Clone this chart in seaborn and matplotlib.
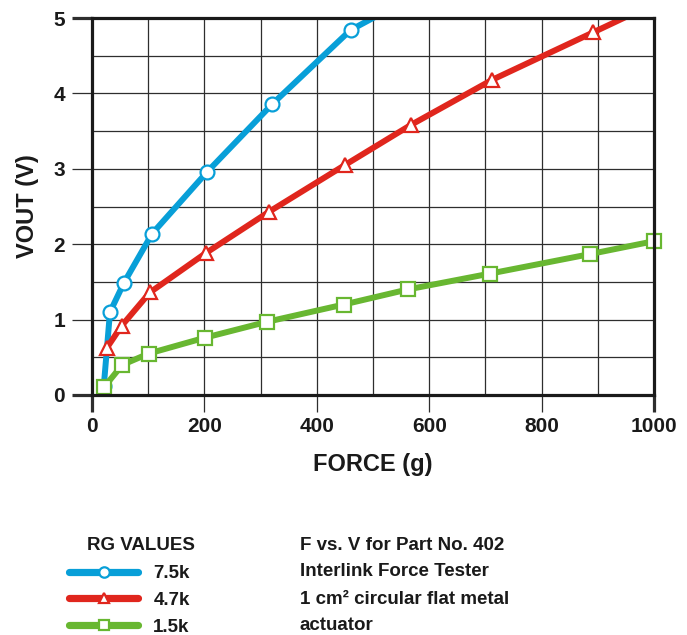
import numpy as np
import pandas as pd
import matplotlib
matplotlib.use("Agg")
import matplotlib.pyplot as plt
import seaborn as sns

# force (g) vs output voltage (V) for each RG value
force_75k = [21, 32, 57, 107, 205, 321, 460, 570]
vout_75k = [0.12, 1.10, 1.49, 2.14, 2.96, 3.86, 4.84, 5.28]

force_47k = [26, 53, 103, 202, 315, 450, 567, 712, 892, 1000]
vout_47k = [0.62, 0.92, 1.36, 1.88, 2.43, 3.05, 3.58, 4.18, 4.81, 5.19]

force_15k = [21, 54, 101, 201, 311, 448, 562, 708, 887, 1000]
vout_15k = [0.10, 0.40, 0.55, 0.76, 0.97, 1.20, 1.40, 1.61, 1.87, 2.04]

x_ticks = [0, 200, 400, 600, 800, 1000]
y_ticks = [0, 1, 2, 3, 4, 5]

sns.set_theme(style="white")
plt.rcParams['font.family'] = ['Liberation Sans', 'DejaVu Sans']
plt.rcParams['font.weight'] = 'bold'

fig = plt.figure(figsize=(6.87, 6.35), dpi=100)
ax = fig.add_axes([92 / 687, 1 - 395 / 635, 562 / 687, 377 / 635])

series = [
    ('7.5k', force_75k, vout_75k, '#089fd8', 'o', True),
    ('4.7k', force_47k, vout_47k, '#e0261d', '^', True),
    ('1.5k', force_15k, vout_15k, '#68b731', 's', False),
]
for label, fx, vy, colour, mk, clip in series:
    df = pd.DataFrame({'force': fx, 'vout': vy})
    sns.lineplot(
        x='force', y='vout', data=df, sort=False, estimator=None,
        color=colour, linewidth=4.3, marker=mk, markersize=10,
        markerfacecolor='white', markeredgecolor=colour, markeredgewidth=1.6,
        label=label, ax=ax, clip_on=clip, zorder=3,
    )

ax.set_xlim(0, 1000)
ax.set_ylim(0, 5)
ax.set_xticks(x_ticks)
ax.set_yticks(y_ticks)
ax.set_xticks(np.arange(0, 1001, 100), minor=True)
ax.set_yticks(np.arange(0, 5.01, 0.5), minor=True)
ax.grid(which='both', color='#2e2e2e', linewidth=0.9, zorder=1)
ax.set_axisbelow(True)

for sp in ax.spines.values():
    sp.set_linewidth(2.3)
    sp.set_color('#1a1a1a')
    sp.set_zorder(4)

ax.tick_params(axis='y', which='major', length=14.4, width=0.9, color='#2e2e2e',
               pad=5, labelsize=15, left=True)
ax.tick_params(axis='x', which='major', length=12, width=0.9, color='#2e2e2e',
               pad=4, labelsize=15, bottom=True)
ax.tick_params(which='minor', length=0)
for t in (ax.yaxis.get_major_ticks()[0], ax.yaxis.get_major_ticks()[-1],
          ax.xaxis.get_major_ticks()[0], ax.xaxis.get_major_ticks()[-1]):
    t.tick1line.set_markeredgewidth(2.3)
    t.tick1line.set_color('#1a1a1a')
for lab in ax.get_xticklabels() + ax.get_yticklabels():
    lab.set_fontweight('bold')
    lab.set_color('#1a1a1a')

ax.set_xlabel('FORCE (g)', fontsize=17, fontweight='bold', color='#1a1a1a', labelpad=12)
ax.set_ylabel('VOUT (V)', fontsize=17, fontweight='bold', color='#1a1a1a', labelpad=10)

handles, labels = ax.get_legend_handles_labels()
ax.get_legend().remove()
leg = fig.legend(handles, labels, loc='upper left',
                 bbox_to_anchor=(69 / 687, 1 - 565 / 635),
                 frameon=False, borderpad=0, borderaxespad=0,
                 handlelength=3.7, handletextpad=0.8, labelspacing=0.52,
                 markerscale=0.75, prop={'size': 13.5, 'weight': 'bold'})
for txt in leg.get_texts():
    txt.set_color('#1a1a1a')
for h in leg.get_lines():
    h.set_linewidth(5.2)

fig.text(87 / 687, 1 - 545 / 635, 'RG VALUES', fontsize=13.5, fontweight='bold',
         va='center', ha='left', color='#1a1a1a')
notes = ['F vs. V for Part No. 402', 'Interlink Force Tester',
         '1 cm² circular flat metal', 'actuator']
for i, line in enumerate(notes):
    fig.text(300 / 687, 1 - (545 + 27 * i) / 635, line, fontsize=13.5,
             fontweight='bold', va='center', ha='left', color='#1a1a1a')

plt.savefig('out.png', dpi=100)
